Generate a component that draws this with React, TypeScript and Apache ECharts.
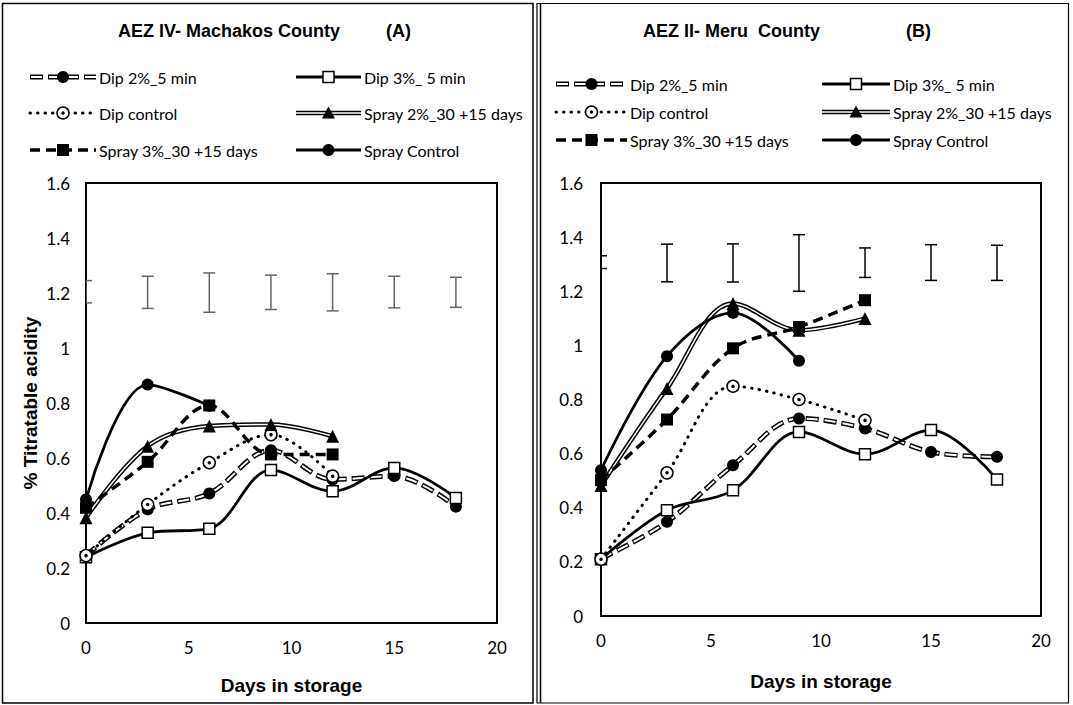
import React, { useEffect, useRef } from "react";
import * as echarts from "echarts";

// ---------- data ----------
const days = [0, 3, 6, 9, 12, 15, 18];
const legendNames = [
  "Dip 2%_5 min",
  "Dip 3%_ 5 min",
  "Dip control",
  "Spray 2%_30 +15 days",
  "Spray 3%_30 +15 days",
  "Spray Control",
];

// Panel A – AEZ IV Machakos County
const machakosDip2 = [0.245, 0.413, 0.471, 0.628, 0.522, 0.534, 0.423];
const machakosDip3 = [0.239, 0.328, 0.343, 0.556, 0.479, 0.564, 0.455];
const machakosDipCtrl = [0.245, 0.431, 0.583, 0.685, 0.534];
const machakosSpray2 = [0.383, 0.643, 0.716, 0.722, 0.679];
const machakosSpray3 = [0.419, 0.586, 0.791, 0.613, 0.613];
const machakosSprayCtrl = [0.449, 0.867, 0.79];
const machakosErrLow = [1.164, 1.144, 1.13, 1.14, 1.135, 1.146, 1.148];
const machakosErrHigh = [1.245, 1.261, 1.273, 1.265, 1.27, 1.261, 1.257];

// Panel B – AEZ II Meru County
const meruDip2 = [0.212, 0.348, 0.557, 0.73, 0.693, 0.606, 0.588];
const meruDip3 = [0.21, 0.391, 0.465, 0.68, 0.598, 0.687, 0.504];
const meruDipCtrl = [0.21, 0.529, 0.849, 0.8, 0.723];
const meruSpray2 = [0.482, 0.841, 1.155, 1.056, 1.099];
const meruSpray3 = [0.502, 0.726, 0.989, 1.068, 1.167];
const meruSprayCtrl = [0.539, 0.96, 1.12, 0.943];
const meruErrLow = [1.284, 1.235, 1.234, 1.2, 1.251, 1.24, 1.24];
const meruErrHigh = [1.331, 1.374, 1.375, 1.409, 1.36, 1.372, 1.37];

const yTickLabels = ["0", "0.2", "0.4", "0.6", "0.8", "1", "1.2", "1.4", "1.6"];

// ---------- styling ----------
const FONT_REG = "Lato, 'Noto Sans', sans-serif";
const FONT_BOLD = "'Liberation Sans', Arial, sans-serif";
const SMOOTH = 0.35;

function pts(vals: number[]) {
  return vals.map((v, i) => [days[i], v]);
}

type PanelData = {
  dip2: number[];
  dip3: number[];
  dipCtrl: number[];
  spray2: number[];
  spray3: number[];
  sprayCtrl: number[];
  errLow: number[];
  errHigh: number[];
};

function panelSeries(i: number, d: PanelData, errColor: string): any[] {
  const base = {
    type: "line",
    xAxisIndex: i,
    yAxisIndex: i,
    smooth: SMOOTH,
    showAllSymbol: true,
    silent: true,
    emphasis: { disabled: true },
  };
  return [
    {
      type: "custom",
      xAxisIndex: i,
      yAxisIndex: i,
      clip: true,
      silent: true,
      z: 1,
      data: days.map((x, k) => [x, d.errLow[k], d.errHigh[k]]),
      encode: { x: 0, y: [1, 2] },
      renderItem: (params: any, api: any) => {
        const x = api.value(0);
        const lo = api.coord([x, api.value(1)]);
        const hi = api.coord([x, api.value(2)]);
        const w = 6;
        const st = { stroke: errColor, lineWidth: 1.5 };
        return {
          type: "group",
          children: [
            { type: "line", shape: { x1: lo[0], y1: lo[1], x2: hi[0], y2: hi[1] }, style: st },
            { type: "line", shape: { x1: lo[0] - w, y1: lo[1], x2: lo[0] + w, y2: lo[1] }, style: st },
            { type: "line", shape: { x1: hi[0] - w, y1: hi[1], x2: hi[0] + w, y2: hi[1] }, style: st },
          ],
        };
      },
    },
    // Dip 2% – outlined dashes, filled circle
    {
      ...base,
      name: legendNames[0],
      data: pts(d.dip2),
      symbol: "none",
      lineStyle: { color: "#000", width: 5, type: [13, 5] },
    },
    {
      ...base,
      name: legendNames[0] + " inner",
      data: pts(d.dip2),
      symbol: "circle",
      symbolSize: 12,
      itemStyle: { color: "#000", borderWidth: 0 },
      lineStyle: { color: "#fff", width: 2, type: [11, 7], dashOffset: -1 },
    },
    // Dip 3% – solid, open square
    {
      ...base,
      name: legendNames[1],
      data: pts(d.dip3),
      symbol: "rect",
      symbolSize: 11,
      itemStyle: { color: "#fff", borderColor: "#000", borderWidth: 1.5 },
      lineStyle: { color: "#000", width: 2.8 },
    },
    // Dip control – dotted, open circle with dot
    {
      ...base,
      name: legendNames[2],
      data: pts(d.dipCtrl),
      symbol: "circle",
      symbolSize: 12,
      itemStyle: { color: "#fff", borderColor: "#000", borderWidth: 1.5 },
      lineStyle: { color: "#000", width: 3, type: [0.5, 7], cap: "round" },
    },
    {
      ...base,
      name: legendNames[2] + " dot",
      data: pts(d.dipCtrl),
      symbol: "circle",
      symbolSize: 3.5,
      itemStyle: { color: "#000" },
      lineStyle: { width: 0, opacity: 0 },
    },
    // Spray 2% – double line, triangle
    {
      ...base,
      name: legendNames[3],
      data: pts(d.spray2),
      symbol: "none",
      lineStyle: { color: "#000", width: 4.5 },
    },
    {
      ...base,
      name: legendNames[3] + " inner",
      data: pts(d.spray2),
      symbol: "triangle",
      symbolSize: 13,
      itemStyle: { color: "#000" },
      lineStyle: { color: "#fff", width: 1.5 },
    },
    // Spray 3% – dashed, filled square
    {
      ...base,
      name: legendNames[4],
      data: pts(d.spray3),
      symbol: "rect",
      symbolSize: 12,
      itemStyle: { color: "#000" },
      lineStyle: { color: "#000", width: 3.5, type: [10, 6] },
    },
    // Spray control – solid, filled circle
    {
      ...base,
      name: legendNames[5],
      data: pts(d.sprayCtrl),
      symbol: "circle",
      symbolSize: 12,
      itemStyle: { color: "#000" },
      lineStyle: { color: "#000", width: 2.8 },
    },
  ];
}

function textEl(text: string, x: number, y: number, font: string, align = "left") {
  return {
    type: "text",
    x,
    y,
    z: 10,
    style: {
      text,
      font,
      fill: "#000",
      textAlign: align,
      textVerticalAlign: "middle",
      align,
      verticalAlign: "middle",
    },
  };
}

function legendItem(kind: number, x1: number, x2: number, y: number): any[] {
  const cx = (x1 + x2) / 2;
  const els: any[] = [];
  const line = (w: number, stroke: string, dash?: number[], off = 0, cap = "butt") => ({
    type: "line",
    z: 10,
    shape: { x1, y1: y, x2, y2: y },
    style: { stroke, lineWidth: w, lineDash: dash || null, lineDashOffset: off, lineCap: cap },
  });
  if (kind === 0) {
    els.push(line(5, "#000", [13, 5]));
    els.push(line(2, "#fff", [11, 7], -1));
    els.push({ type: "circle", z: 11, shape: { cx, cy: y, r: 6 }, style: { fill: "#000" } });
  } else if (kind === 1) {
    els.push(line(2.8, "#000"));
    els.push({
      type: "rect",
      z: 11,
      shape: { x: cx - 5.5, y: y - 5.5, width: 11, height: 11 },
      style: { fill: "#fff", stroke: "#000", lineWidth: 1.5 },
    });
  } else if (kind === 2) {
    els.push(line(3, "#000", [0.5, 7], 0, "round"));
    els.push({ type: "circle", z: 11, shape: { cx, cy: y, r: 6 }, style: { fill: "#fff", stroke: "#000", lineWidth: 1.5 } });
    els.push({ type: "circle", z: 12, shape: { cx, cy: y, r: 1.75 }, style: { fill: "#000" } });
  } else if (kind === 3) {
    els.push(line(4.5, "#000"));
    els.push(line(1.5, "#fff"));
    els.push({
      type: "polygon",
      z: 11,
      shape: { points: [[cx, y - 6.5], [cx + 6.5, y + 5.5], [cx - 6.5, y + 5.5]] },
      style: { fill: "#000" },
    });
  } else if (kind === 4) {
    els.push(line(3.5, "#000", [10, 6]));
    els.push({ type: "rect", z: 11, shape: { x: cx - 6, y: y - 6, width: 12, height: 12 }, style: { fill: "#000" } });
  } else {
    els.push(line(2.8, "#000"));
    els.push({ type: "circle", z: 11, shape: { cx, cy: y, r: 6 }, style: { fill: "#000" } });
  }
  return els;
}

function legendBlock(col1: [number, number], col2: [number, number], rows: number[]): any[] {
  const out: any[] = [];
  const legFont = `16px ${FONT_REG}`;
  for (let k = 0; k < 6; k++) {
    const col = k % 2 === 0 ? col1 : col2;
    const y = rows[Math.floor(k / 2)];
    out.push(...legendItem(k, col[0], col[1], y));
    out.push(textEl(legendNames[k], col[1] + 3, y, legFont));
  }
  return out;
}

function axisPair(grid: number, xNameGap: number, xMargin: number, yMargin: number, yName?: string) {
  const x = {
    type: "value",
    gridIndex: grid,
    min: 0,
    max: 20,
    interval: 5,
    axisLine: { show: false },
    axisTick: { show: false },
    splitLine: { show: false },
    axisLabel: { color: "#000", fontFamily: FONT_REG, fontSize: 17, margin: xMargin },
    name: "Days in storage",
    nameLocation: "middle",
    nameGap: xNameGap,
    nameTextStyle: { color: "#000", fontFamily: FONT_BOLD, fontWeight: "bold", fontSize: 19 },
  };
  const y: any = {
    type: "value",
    gridIndex: grid,
    min: 0,
    max: 1.6,
    interval: 0.2,
    axisLine: { show: false },
    axisTick: { show: false },
    splitLine: { show: false },
    axisLabel: {
      color: "#000",
      fontFamily: FONT_REG,
      fontSize: 17,
      margin: yMargin,
      formatter: (v: number) => yTickLabels[Math.round(v / 0.2)] ?? String(v),
    },
  };
  if (yName) {
    y.name = yName;
    y.nameLocation = "middle";
    y.nameGap = 46;
    y.nameRotate = 90;
    y.nameTextStyle = { color: "#000", fontFamily: FONT_BOLD, fontWeight: "bold", fontSize: 19 };
  }
  return { x, y };
}

export default function App() {
  const ref = useRef<HTMLDivElement>(null);
  useEffect(() => {
    if (!ref.current) return;
    const chart = echarts.init(ref.current, undefined, { renderer: "svg" });
    const aAx = axisPair(0, 53, 16, 16, "% Titratable acidity");
    const bAx = axisPair(1, 56, 16, 18);
    const titleFont = `bold 18px ${FONT_BOLD}`;
    const option: any = {
      animation: false,
      backgroundColor: "#fff",
      grid: [
        { left: 86, top: 183, width: 411, height: 440, show: true, borderColor: "#000", borderWidth: 2, backgroundColor: "transparent" },
        { left: 601, top: 183, width: 440, height: 433, show: true, borderColor: "#000", borderWidth: 2, backgroundColor: "transparent" },
      ],
      xAxis: [aAx.x, bAx.x],
      yAxis: [aAx.y, bAx.y],
      series: [
        ...panelSeries(
          0,
          {
            dip2: machakosDip2,
            dip3: machakosDip3,
            dipCtrl: machakosDipCtrl,
            spray2: machakosSpray2,
            spray3: machakosSpray3,
            sprayCtrl: machakosSprayCtrl,
            errLow: machakosErrLow,
            errHigh: machakosErrHigh,
          },
          "#666"
        ),
        ...panelSeries(
          1,
          {
            dip2: meruDip2,
            dip3: meruDip3,
            dipCtrl: meruDipCtrl,
            spray2: meruSpray2,
            spray3: meruSpray3,
            sprayCtrl: meruSprayCtrl,
            errLow: meruErrLow,
            errHigh: meruErrHigh,
          },
          "#000"
        ),
      ],
      graphic: [
        { type: "rect", z: 0, shape: { x: 2.5, y: 3.5, width: 530.5, height: 699.5 }, style: { fill: "none", stroke: "#000", lineWidth: 1.5 } },
        { type: "rect", z: 0, shape: { x: 537, y: 3.5, width: 531.5, height: 699.5 }, style: { fill: "none", stroke: "#000", lineWidth: 1.2 } },
        { type: "line", z: 0, shape: { x1: 540.5, y1: 3.5, x2: 540.5, y2: 703 }, style: { stroke: "#000", lineWidth: 1.5 } },
        textEl("AEZ IV- Machakos County", 118, 31, titleFont),
        textEl("(A)", 386, 31, titleFont),
        textEl("AEZ II- Meru  County", 643, 31, titleFont),
        textEl("(B)", 906, 31, titleFont),
        ...legendBlock([30, 96], [296, 361], [77, 113, 150]),
        ...legendBlock([556, 627], [822, 890], [84, 112, 140]),
      ],
    };
    chart.setOption(option);
    return () => chart.dispose();
  }, []);
  return (
    <div
      ref={ref}
      style={{ position: "fixed", left: 0, top: 0, width: 1073, height: 705, background: "#fff" }}
    />
  );
}
